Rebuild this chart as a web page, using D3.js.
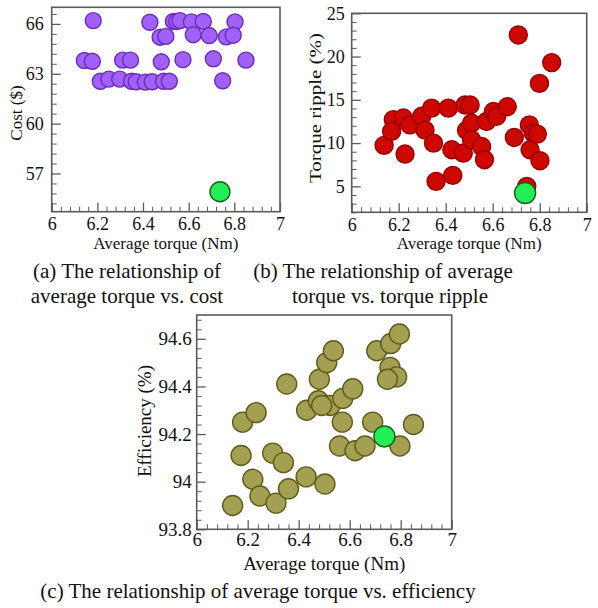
<!DOCTYPE html>
<html><head><meta charset="utf-8">
<script src="https://cdn.jsdelivr.net/npm/d3@7"></script>
<style>
body{margin:0;background:#fff}
svg{display:block}
text{font-family:"Liberation Serif","Times New Roman",serif;fill:#111}
</style>
</head><body>
<svg id="chart" width="598" height="608"></svg>
<script>
// ---------- data ----------
const xTicks = [6, 6.2, 6.4, 6.6, 6.8, 7];
const xTickLabels = ["6", "6.2", "6.4", "6.6", "6.8", "7"];

const costTicks = [57, 60, 63, 66];
const costTickLabels = ["57", "60", "63", "66"];
const rippleTicks = [5, 10, 15, 20, 25];
const rippleTickLabels = ["5", "10", "15", "20", "25"];
const effTicks = [93.8, 94, 94.2, 94.4, 94.6];
const effTickLabels = ["93.8", "94", "94.2", "94.4", "94.6"];

// (a) average torque vs cost
const costTorque = [6.182, 6.43, 6.533, 6.548, 6.562, 6.612, 6.664, 6.803,
  6.475, 6.5, 6.62, 6.69, 6.765, 6.795,
  6.143, 6.178, 6.311, 6.345, 6.48, 6.575, 6.708, 6.851,
  6.213, 6.25, 6.298, 6.35, 6.37, 6.41, 6.44, 6.49, 6.515, 6.749];
const costValues = [66.2, 66.1, 66.15, 66.15, 66.2, 66.12, 66.15, 66.12,
  65.2, 65.25, 65.35, 65.3, 65.22, 65.32,
  63.8, 63.75, 63.82, 63.82, 63.72, 63.85, 63.9, 63.82,
  62.55, 62.68, 62.68, 62.55, 62.52, 62.5, 62.52, 62.55, 62.55, 62.58];
const costOptimal = [6.737, 55.9];

// (b) average torque vs torque ripple
const rippleTorque = [6.138, 6.177, 6.170, 6.22, 6.227, 6.248, 6.298, 6.312, 6.34, 6.348,
  6.359, 6.411, 6.426, 6.43, 6.475, 6.482, 6.504, 6.489, 6.51, 6.51,
  6.553, 6.565, 6.574, 6.603, 6.617, 6.662, 6.692, 6.709, 6.756, 6.759,
  6.773, 6.79, 6.801, 6.799, 6.851, 6.745];
const rippleValues = [9.73, 12.7, 11.35, 12.9, 8.73, 12.1, 13.1, 11.5, 14.04, 10.0,
  5.58, 14.04, 9.23, 6.27, 8.85, 14.4, 14.4, 11.46, 12.3, 10.38,
  9.6, 8.08, 12.5, 13.65, 13.1, 14.2, 10.65, 22.5, 12.1, 9.23,
  11.15, 11.04, 7.96, 16.9, 19.3, 5.0];
const rippleOptimal = [6.738, 4.23];

// (c) average torque vs efficiency
const effTorque = [6.141, 6.174, 6.18, 6.233, 6.22, 6.248, 6.298, 6.311, 6.34, 6.36,
  6.353, 6.429, 6.431, 6.481, 6.477, 6.503, 6.51, 6.536, 6.523, 6.49,
  6.56, 6.571, 6.573, 6.612, 6.621, 6.66, 6.69, 6.706, 6.761, 6.795,
  6.758, 6.784, 6.748, 6.797, 6.85];
const effValues = [93.90, 94.11, 94.25, 94.29, 94.01, 93.94, 94.12, 93.91, 94.08, 93.97,
  94.41, 94.02, 94.30, 94.43, 94.34, 93.99, 94.50, 94.55, 94.32, 94.32,
  94.15, 94.25, 94.35, 94.39, 94.13, 94.15, 94.25, 94.55, 94.58, 94.62,
  94.48, 94.44, 94.43, 94.15, 94.24];
const effOptimal = [6.736, 94.19];

// ---------- drawing ----------
const svg = d3.select("#chart");
const FRAME = "#5a5a5a";
const SERIF = '"Liberation Serif", "Times New Roman", Times, serif';

function minorValues(domain, start, step, majors) {
  const out = [];
  for (let v = start; v <= domain[1] + 1e-9; v += step) {
    const r = Math.round(v * 1000) / 1000;
    if (r < domain[0] - 1e-9) continue;
    if (majors.some(m => Math.abs(m - r) < 1e-6)) continue;
    out.push(r);
  }
  return out;
}

function panel(cfg) {
  const g = svg.append("g");
  const x = d3.scaleLinear().domain([6, 7]).range([cfg.left, cfg.right]);
  const y = d3.scaleLinear().domain(cfg.yDomain).range([cfg.bottom, cfg.top]);

  // minor ticks
  g.append("g").attr("transform", `translate(0,${cfg.bottom})`)
    .call(d3.axisBottom(x).tickValues(minorValues([6, 7], 6, 0.04, xTicks))
      .tickSizeInner(-5).tickSizeOuter(0).tickFormat(""))
    .call(a => { a.select(".domain").remove(); a.selectAll("line").attr("stroke", FRAME); });
  g.append("g").attr("transform", `translate(${cfg.left},0)`)
    .call(d3.axisLeft(y).tickValues(minorValues(cfg.yDomain, cfg.minorStart, cfg.minorStep, cfg.yTicks))
      .tickSizeInner(-5).tickSizeOuter(0).tickFormat(""))
    .call(a => { a.select(".domain").remove(); a.selectAll("line").attr("stroke", FRAME); });

  // major ticks
  g.append("g").attr("transform", `translate(0,${cfg.bottom})`)
    .call(d3.axisBottom(x).tickValues(xTicks).tickFormat((d, i) => xTickLabels[i])
      .tickSizeInner(-9).tickSizeOuter(0).tickPadding(cfg.xPad))
    .call(a => {
      a.attr("font-family", SERIF);
      a.select(".domain").remove();
      a.selectAll("line").attr("stroke", FRAME).attr("stroke-width", 1.3);
      a.selectAll("text").attr("font-size", cfg.tickFont).style("font-family", SERIF).attr("fill", "#111");
    });
  g.append("g").attr("transform", `translate(${cfg.left},0)`)
    .call(d3.axisLeft(y).tickValues(cfg.yTicks).tickFormat((d, i) => cfg.yTickLabels[i])
      .tickSizeInner(-9).tickSizeOuter(0).tickPadding(cfg.yPad))
    .call(a => {
      a.attr("font-family", SERIF);
      a.select(".domain").remove();
      a.selectAll("line").attr("stroke", FRAME).attr("stroke-width", 1.3);
      a.selectAll("text").attr("font-size", cfg.tickFont).style("font-family", SERIF).attr("fill", "#111");
    });

  // frame
  g.append("rect")
    .attr("x", cfg.left).attr("y", cfg.top)
    .attr("width", cfg.right - cfg.left).attr("height", cfg.bottom - cfg.top)
    .attr("fill", "none").attr("stroke", FRAME).attr("stroke-width", 1.6);

  // points
  g.append("g").selectAll("circle")
    .data(cfg.xs.map((v, i) => [v, cfg.ys[i]]))
    .join("circle")
    .attr("cx", d => x(d[0])).attr("cy", d => y(d[1]))
    .attr("r", cfg.r)
    .attr("fill", cfg.fill).attr("stroke", cfg.stroke).attr("stroke-width", 1.4);

  g.append("circle")
    .attr("cx", x(cfg.opt[0])).attr("cy", y(cfg.opt[1]))
    .attr("r", cfg.rOpt)
    .attr("fill", "#22ee55").attr("stroke", "#1d5e1d").attr("stroke-width", 1.4);

  // axis labels
  g.append("text")
    .attr("x", (cfg.left + cfg.right) / 2).attr("y", cfg.xLabelY)
    .attr("text-anchor", "middle").attr("font-size", cfg.labelFont)
    .attr("fill", "#222")
    .text("Average torque (Nm)");
  const yl = g.append("text")
    .attr("transform", `translate(${cfg.yLabelX},${cfg.yLabelCY}) rotate(-90)`)
    .attr("text-anchor", "middle").attr("font-size", cfg.labelFont)
    .attr("fill", "#222")
    .text(cfg.yLabel);
  if (cfg.yLabelLen) yl.attr("textLength", cfg.yLabelLen).attr("lengthAdjust", "spacingAndGlyphs");
}

panel({
  left: 51.7, right: 280, top: 7.3, bottom: 211.7,
  yDomain: [54.7, 67], yTicks: costTicks, yTickLabels: costTickLabels,
  minorStart: 54.6, minorStep: 0.6,
  xs: costTorque, ys: costValues, opt: costOptimal,
  r: 8, rOpt: 10, fill: "#a160f7", stroke: "#6a2db8",
  tickFont: 18, labelFont: 17, xPad: 6, yPad: 8,
  xLabelY: 249, yLabel: "Cost ($)", yLabelX: 22, yLabelCY: 113
});

panel({
  left: 351.7, right: 586.7, top: 13.3, bottom: 212.3,
  yDomain: [2, 25], yTicks: rippleTicks, yTickLabels: rippleTickLabels,
  minorStart: 2, minorStep: 1,
  xs: rippleTorque, ys: rippleValues, opt: rippleOptimal,
  r: 9, rOpt: 10.5, fill: "#cc0800", stroke: "#960000",
  tickFont: 18, labelFont: 17, xPad: 6, yPad: 7,
  xLabelY: 249, yLabel: "Torque ripple (%)", yLabelX: 321, yLabelCY: 108, yLabelLen: 150
});

panel({
  left: 196.7, right: 451.7, top: 315, bottom: 529.3,
  yDomain: [93.8, 94.7], yTicks: effTicks, yTickLabels: effTickLabels,
  minorStart: 93.8, minorStep: 0.04,
  xs: effTorque, ys: effValues, opt: effOptimal,
  r: 10, rOpt: 10.5, fill: "#a4a052", stroke: "#5e5a1c",
  tickFont: 19, labelFont: 19, xPad: 3, yPad: 5,
  xLabelY: 570, yLabel: "Efficiency (%)", yLabelX: 151, yLabelCY: 421
});

// captions
const captions = [
  {t: "(a) The relationship of", x: 127, y: 278},
  {t: "average torque vs. cost", x: 127, y: 303},
  {t: "(b) The relationship of average", x: 383, y: 278},
  {t: "torque vs. torque ripple", x: 390, y: 303},
  {t: "(c) The relationship of average torque vs. efficiency", x: 258, y: 598}
];
svg.append("g").selectAll("text").data(captions).join("text")
  .attr("x", d => d.x).attr("y", d => d.y)
  .attr("text-anchor", "middle").attr("font-size", 21).attr("fill", "#000")
  .text(d => d.t);
</script>
</body></html>
